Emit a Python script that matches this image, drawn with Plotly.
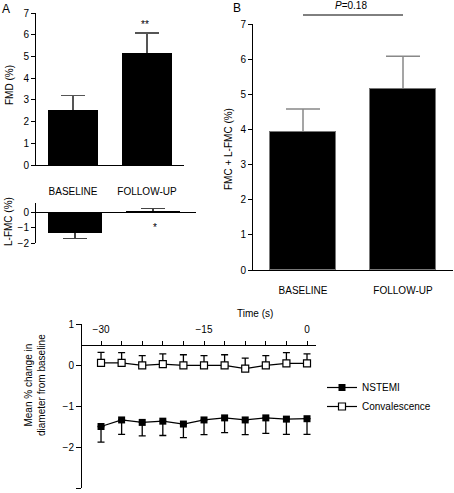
import plotly.graph_objects as go

W, H = 454, 493
FONT = "Liberation Sans, Arial, sans-serif"

# ---------- data ----------
categories = ["BASELINE", "FOLLOW-UP"]
fmd_values = [2.55, 5.15]
fmd_err = [0.65, 0.93]
lfmc_values = [-1.35, 0.02]
lfmc_err_plus = [0.37, 0.23]
lfmc_err_minus = [0.37, 0.02]
sum_values = [3.92, 5.15]
sum_err = [0.66, 0.93]

time_s = [-30, -27, -24, -21, -18, -15, -12, -9, -6, -3, 0]
nstemi = [-1.50, -1.34, -1.40, -1.37, -1.44, -1.34, -1.29, -1.34, -1.29, -1.32, -1.31]
nstemi_err = [0.38, 0.35, 0.33, 0.35, 0.33, 0.36, 0.36, 0.36, 0.38, 0.37, 0.38]
conv = [0.05, 0.05, -0.01, 0.02, -0.01, -0.01, -0.01, -0.09, -0.01, 0.04, 0.04]
conv_err = [0.26, 0.25, 0.24, 0.25, 0.26, 0.24, 0.26, 0.26, 0.24, 0.26, 0.23]
time_tickvals = time_s
time_ticktext = ["\u221230", "", "", "", "", "\u221215", "", "", "", "", "0"]


def fx(px):
    return px / W


def fy(py):
    return 1 - py / H


fig = go.Figure()


def bar_pair(vals, ax, ay, width, err_plus, err_minus, ecolor, ewidth, edge_color=None):
    # first trace carries the error bars; second identical bar covers the lower half
    edge = dict(width=0) if edge_color is None else dict(color=edge_color, width=1)
    fig.add_trace(go.Bar(
        x=categories, y=vals, xaxis=ax, yaxis=ay, width=width,
        marker=dict(color="black", line=edge),
        error_y=dict(type="data", symmetric=False, array=err_plus, arrayminus=err_minus,
                     color=ecolor, thickness=1.5, width=ewidth),
        showlegend=False, hoverinfo="skip"))
    fig.add_trace(go.Bar(
        x=categories, y=vals, xaxis=ax, yaxis=ay, width=width,
        marker=dict(color="black", line=edge), showlegend=False))


bar_pair(fmd_values, "x", "y", 0.68, fmd_err, fmd_err, "#555", 12)
bar_pair(lfmc_values, "x2", "y2", 0.69, lfmc_err_plus, lfmc_err_minus, "#444", 12)
bar_pair(sum_values, "x3", "y3", 0.66, sum_err, sum_err, "#888", 17, edge_color="#777")

# Panel C: time course
fig.add_trace(go.Scatter(
    x=time_s, y=nstemi, xaxis="x4", yaxis="y4", name="NSTEMI", mode="lines+markers",
    line=dict(color="black", width=1.2),
    marker=dict(symbol="square", size=7, color="black"),
    error_y=dict(type="data", symmetric=False, array=[0] * len(nstemi), arrayminus=nstemi_err,
                 color="black", thickness=1.3, width=3.5)))
fig.add_trace(go.Scatter(
    x=time_s, y=conv, xaxis="x4", yaxis="y4", name="Convalescence", mode="lines+markers",
    line=dict(color="black", width=1.2),
    marker=dict(symbol="square", size=7, color="white", line=dict(color="black", width=1.2)),
    error_y=dict(type="data", symmetric=False, array=conv_err, arrayminus=[0] * len(conv),
                 color="black", thickness=1.3, width=3.5)))

axis_common = dict(showline=True, linecolor="black", linewidth=1, showgrid=False,
                   zeroline=False, tickfont=dict(size=10, color="black", family=FONT),
                   tickcolor="black", tickwidth=1, automargin=False)

fig.update_layout(
    width=W, height=H, margin=dict(l=0, r=0, t=0, b=0, autoexpand=False),
    paper_bgcolor="white", plot_bgcolor="white",
    font=dict(family=FONT, size=10, color="black"),
    barmode="overlay", bargap=0,
    # A top
    xaxis=dict(domain=[fx(36), fx(184)], anchor="y", range=[-0.5, 1.5], ticks="",
               ticklabelstandoff=17, **axis_common),
    yaxis=dict(domain=[fy(165), fy(13)], anchor="x", range=[0, 7], dtick=1, ticks="outside",
               ticklen=4, **axis_common),
    # A bottom
    xaxis2=dict(domain=[fx(36), fx(196)], anchor="free", position=fy(212), range=[-0.5, 1.55],
                ticks="", showticklabels=False, **axis_common),
    yaxis2=dict(domain=[fy(243), fy(203)], anchor="x2", range=[-2, 0.6], tickvals=[0, -1, -2],
                ticks="outside", ticklen=4, **axis_common),
    # B
    xaxis3=dict(domain=[fx(253), fx(453)], anchor="y3", range=[-0.5, 1.5], ticks="",
                ticklabelstandoff=11, **axis_common),
    yaxis3=dict(domain=[fy(270), fy(24)], anchor="x3", range=[0, 7], dtick=1, ticks="outside",
                ticklen=4, **axis_common),
    # C
    xaxis4=dict(domain=[fx(82), fx(316)], anchor="free", position=fy(344.5), side="top",
                range=[-32.77, 1.31], tickvals=time_tickvals, ticktext=time_ticktext,
                ticks="outside", ticklen=4, ticklabelstandoff=4, **axis_common),
    yaxis4=dict(domain=[fy(488), fy(324)], anchor="x4", range=[-3, 1], tickvals=[1, 0, -1, -2, -3],
                ticks="outside", ticklen=5, **axis_common),
    legend=dict(x=fx(322), y=fy(373), xanchor="left", yanchor="top", bgcolor="rgba(0,0,0,0)",
                font=dict(size=10, family=FONT), tracegroupgap=0, itemwidth=30),
)

ann = [
    dict(text="A", x=fx(6), y=fy(9), font=dict(size=12)),
    dict(text="B", x=fx(237), y=fy(8), font=dict(size=12)),
    dict(text="FMD (%)", x=fx(9), y=fy(85), textangle=-90),
    dict(text="L-FMC (%)", x=fx(8), y=fy(222), textangle=-90),
    dict(text="FMC + L-FMC (%)", x=fx(228), y=fy(149), textangle=-90),
    dict(text="Mean % change in<br>diameter from baseline", x=fx(35), y=fy(385), textangle=-90),
    dict(text="Time (s)", x=fx(255), y=fy(313)),
    dict(text="**", x=fx(145), y=fy(24)),
    dict(text="*", x=fx(155), y=fy(227)),
    dict(text="<i>P</i>=0.18", x=fx(351), y=fy(6)),
]
for a in ann:
    a.setdefault("font", dict(size=10))
    a["font"].setdefault("family", FONT)
    a["font"].setdefault("color", "black")
    fig.add_annotation(xref="paper", yref="paper", showarrow=False,
                       xanchor="center", yanchor="middle", **a)

fig.add_shape(type="line", xref="x3", yref="paper", x0=0, x1=1, y0=fy(15), y1=fy(15),
              line=dict(color="black", width=1))

fig.write_html("out.html", config={"displayModeBar": False},
               post_script="document.body.style.margin='0';")
